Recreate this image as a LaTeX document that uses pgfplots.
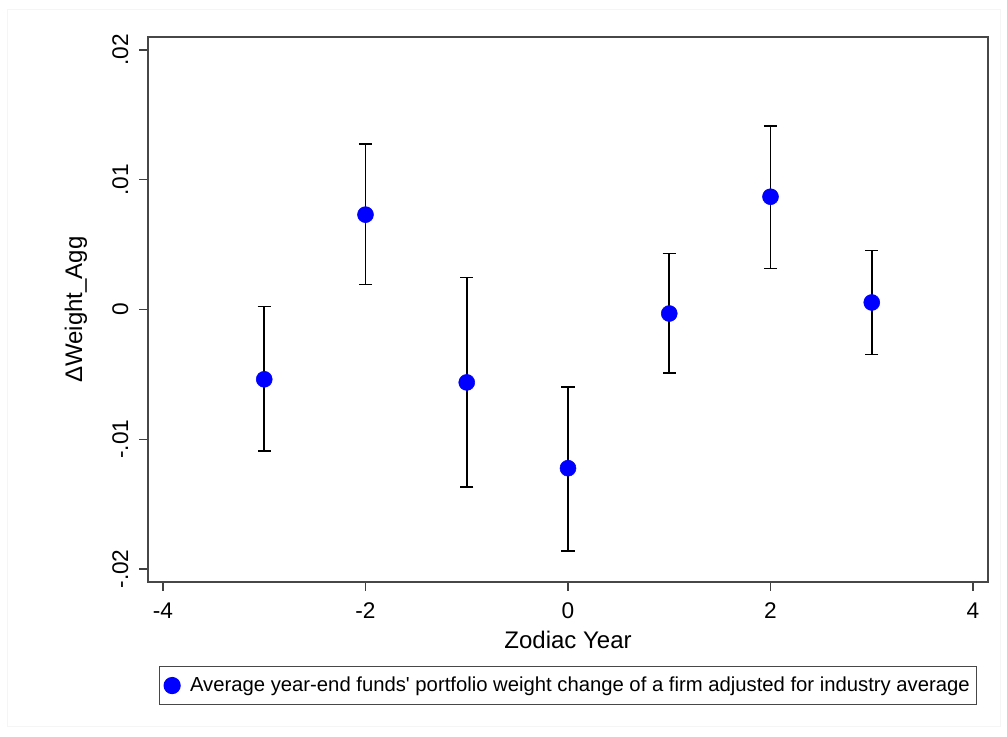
\documentclass[border=0pt]{standalone}
\usepackage{fontspec}
\setmainfont{Liberation Sans}
\usepackage{pgfplots}
\usepackage{pgfplotstable}
\pgfplotsset{compat=1.18}
\pgfplotstableread{
x y ep em
-3 -0.00538 0.00561 0.00554
-2 0.00731 0.00546 0.00539
-1 -0.00562 0.00808 0.00807
0 -0.01223 0.00623 0.00639
1 -0.00031 0.00462 0.00461
2 0.00869 0.00546 0.00554
3 0.00054 0.00400 0.00400
}\zodiac
\begin{document}
\begin{tikzpicture}
\path[use as bounding box] (0,0) rectangle (755.25pt,552.75pt);
\draw[black!4, line width=0.75pt] (5.25pt,7.5pt) rectangle (750pt,545.25pt);
\begin{axis}[
  at={(111pt,116.25pt)}, anchor=south west,
  width=630pt, height=408.75pt, scale only axis,
  xmin=-4.148, xmax=4.148, ymin=-0.021, ymax=0.021,
  scaled y ticks=false, scaled x ticks=false,
  xtick={-4,-2,0,2,4}, xticklabels={-4,-2,0,2,4},
  ytick={-0.02,-0.01,0,0.01,0.02}, yticklabels={-.02,-.01,0,.01,.02},
  tick align=outside, major tick length=6.5pt,
  tick style={black!75, line width=0.8pt},
  xtick pos=bottom, ytick pos=left,
  axis line style={black!72, line width=1.2pt},
  ticklabel style={font=\fontsize{17}{19}\selectfont},
  yticklabel style={rotate=90, anchor=south, inner ysep=8pt},
  xticklabel style={yshift=-5.5pt},
  xlabel={Zodiac Year}, ylabel={ΔWeight\_Agg},
  label style={font=\fontsize{18}{20}\selectfont},
  xlabel style={at={(axis description cs:0.5,-0.1064)}, anchor=center},
  ylabel style={at={(axis description cs:-0.0857,0.5)}, anchor=center, rotate=0},
  legend style={at={(axis description cs:0.5,-0.154)}, anchor=north,
    draw=black!72, line width=0.9pt, font=\fontsize{15.2}{17}\selectfont,
    inner xsep=3pt, inner ysep=6pt,
    /tikz/every odd column/.append style={column sep=5pt}},
  legend cell align=left,
  legend image code/.code={\fill[blue] (0pt,0pt) circle (6pt);},
  clip=false,
]
\addplot[only marks, mark=*, mark size=6pt, mark options={fill=blue, draw=blue},
  error bars/.cd, y dir=both, y explicit,
  error bar style={black, line width=1.3pt},
  error mark options={rotate=90, mark size=4.9pt, line width=1.3pt, black}]
  table[x=x, y=y, y error plus=ep, y error minus=em] {\zodiac};
\addlegendentry{Average year-end funds\textquotesingle{} portfolio weight change of a firm adjusted for industry average}
\end{axis}
\end{tikzpicture}
\end{document}
